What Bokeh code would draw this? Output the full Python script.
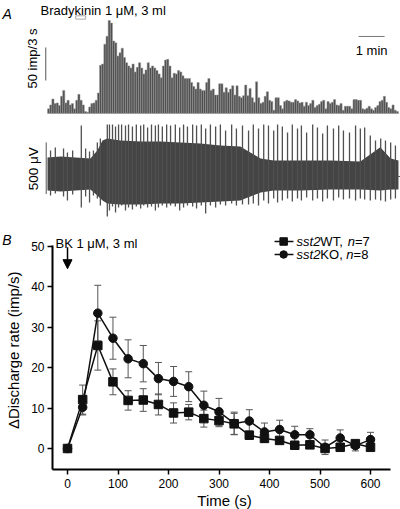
from bokeh.plotting import figure
from bokeh.layouts import column
from bokeh.models import Range1d, FixedTicker, Label, Arrow, NormalHead, Whisker, TeeHead, ColumnDataSource
from bokeh.embed import file_html
from bokeh.resources import INLINE

FONT = "Liberation Sans"

# ---------------- Panel A data ----------------
bin_s = 5  # seconds per histogram bar
hist_counts = [
    7, 13, 22, 15, 16, 12, 26, 35, 16, 20, 13, 15, 7, 20, 29, 20, 13, 3, 2, 10, 15, 16, 20, 31,
    73, 75, 105, 117, 141, 137, 110, 107, 87, 92, 99, 85, 77, 72, 69, 75, 63, 70, 77, 69, 60, 66,
    77, 69, 72, 69, 65, 60, 54, 72,
    81, 82, 72, 54, 61, 60, 65, 63, 57, 53, 53, 53, 47, 41, 37, 47, 37, 35, 35, 47, 53, 35, 37, 28,
    28, 45, 45, 32, 39, 32, 37, 42, 28, 42, 26, 24, 27, 43, 27, 38, 24, 17, 48, 24, 15, 17, 26, 33,
    20, 18, 5, 24,
    24, 12, 7, 18, 20, 19, 17, 17, 21, 19, 16, 17, 11, 17, 12, 15, 20, 9, 12, 14, 18, 20, 7, 18, 15,
    17, 21, 13, 12, 15, 5, 11, 11, 11, 7, 21, 21, 20, 20, 7, 6, 8, 11, 7, 5, 9, 12, 18, 20, 26, 17,
    9, 7, 13, 5, 3,
]
drug_on, drug_off = 65, 88          # s, bradykinin application
scale_imp = (50, 100)               # imp/3 s scale bar (50 imp)
scale_uv = (-170, 330)              # µV scale bar (500 µV)
scale_min = (718, 778)              # 1 min scale bar (s)

# voltage trace: dense core band and spikes (µV)
core_t = [0, 30, 65, 99, 115, 127, 138, 168, 215, 261, 307, 353, 399, 445, 468, 492, 522, 584, 653, 722, 768, 792, 810]
core_hi = [184, 194, 184, 174, 252, 349, 368, 349, 339, 339, 329, 320, 300, 291, 233, 174, 155, 155, 155, 145, 284, 174, 155]
core_lo = [-136, -145, -136, -126, -184, -233, -262, -271, -271, -262, -262, -252, -242, -233, -194, -155, -136, -136, -126, -126, -136, -126, -126]

spike_t = [7, 18, 37, 46, 58, 78, 88, 97, 106, 115,
           122, 138, 143, 150, 157, 164, 171, 180, 187, 196,
           205, 215, 222, 231, 240, 249, 256, 265, 275, 284,
           295, 305, 314, 323, 335, 344, 355, 365, 376, 388,
           399, 411, 425, 436, 450, 464, 475, 487, 499, 510,
           522, 531, 542, 554, 565, 577, 586, 598, 612, 623,
           635, 646, 660, 672, 683, 697, 711, 722, 732, 745,
           757, 769, 780, 792, 803]
spike_hi = [252, 281, 271, 233, 252, 494, 271, 242, 252, 329,
            368, 504, 504, 504, 484, 504, 504, 494, 504, 484,
            504, 494, 504, 475, 504, 494, 504, 484, 504, 494,
            504, 475, 504, 484, 504, 494, 504, 465, 504, 484,
            504, 446, 504, 465, 494, 446, 504, 465, 504, 494,
            446, 504, 484, 426, 504, 465, 494, 426, 504, 475,
            417, 494, 465, 494, 446, 426, 494, 465, 475, 397,
            349, 368, 349, 329, 300]
spike_lo = [-184, -165, -194, -233, -174, -300, -194, -252, -184, -213,
            -281, -388, -329, -291, -349, -300, -281, -329, -300, -320,
            -291, -310, -281, -300, -291, -329, -300, -281, -300, -281,
            -291, -329, -300, -281, -291, -310, -281, -359, -281, -300,
            -271, -281, -262, -281, -271, -271, -262, -281, -233, -262,
            -213, -252, -233, -213, -242, -213, -233, -204, -233, -213,
            -242, -213, -233, -204, -223, -213, -233, -213, -223, -233,
            -223, -233, -242, -223, -213]

# ---------------- Panel B data ----------------
times = [0, 30, 60, 90, 120, 150, 180, 210, 240, 270, 300, 330, 360, 390, 420, 450, 480, 510, 540, 570, 600]
wt_mean = [0, 12.1, 25.5, 16.5, 11.9, 12.0, 10.9, 8.8, 9.0, 7.4, 6.9, 6.1, 3.3, 2.5, 2.0, 0.8, 0.9, 0.0, 0.3, 1.2, 0.3]
wt_sem = [0, 3.6, 6.1, 3.2, 2.4, 2.8, 2.6, 2.5, 1.9, 2.1, 1.5, 2.6, 1.0, 1.0, 0.8, 0.6, 0.6, 0.8, 0.5, 0.8, 0.5]
ko_mean = [0, 10.2, 33.5, 27.3, 22.2, 21.0, 17.3, 16.6, 15.3, 10.7, 9.1, 6.2, 6.8, 4.1, 4.7, 3.4, 3.4, 0.3, 2.6, 0.7, 2.2]
ko_sem = [0, 1.9, 6.9, 5.2, 4.7, 4.5, 4.0, 3.7, 3.7, 3.5, 3.3, 2.8, 2.8, 2.2, 2.3, 2.1, 1.5, 1.8, 2.0, 1.3, 1.8]
x_ticks = [0, 100, 200, 300, 400, 500, 600]
y_ticks = [0, 10, 20, 30, 40, 50]
x_axis_span = (-29.7, 639.6)
y_axis_span = (-5.2, 50.25)
bk_time = 0

W = 400
H1, H2 = 222, 287
DARK = "#111111"


def lab(fig, text, x, y, size="13px", style="normal", align="left", baseline="alphabetic",
        angle=0, y_range_name="default"):
    fig.add_layout(Label(text=text, x=x, y=y, text_font=FONT, text_font_size=size,
                         text_font_style=style, text_align=align, text_baseline=baseline,
                         angle=angle, text_color="black", y_range_name=y_range_name))


# ---------------- Panel A ----------------
p1 = figure(width=W, height=H1, x_range=Range1d(-108.5, 814.7), y_range=Range1d(-165.2, 171.2),
            x_axis_location=None, y_axis_location=None, toolbar_location=None,
            output_backend="svg", min_border=0)
p1.outline_line_color = None
p1.grid.grid_line_color = None
p1.extra_y_ranges = {"uv": Range1d(-446, 1705)}

t_cent = [i * bin_s + bin_s / 2 for i in range(len(hist_counts))]
p1.vbar(x=t_cent, top=hist_counts, bottom=0, width=bin_s,
        fill_color="#505050", line_color="#9a9a9a", line_width=0.5)
p1.quad(left=[drug_on], right=[drug_off], bottom=[143], top=[148],
        fill_color=None, line_color="#aaaaaa", line_width=1)

# voltage trace
p1.varea(x=core_t, y1=core_lo, y2=core_hi, fill_color="#444444", y_range_name="uv")
p1.segment(x0=spike_t, y0=spike_lo, x1=spike_t, y1=spike_hi, line_color="#505050",
           line_width=1.3, y_range_name="uv")
p1.segment(x0=[core_t[-1] - 3], y0=[0], x1=[core_t[-1] + 6], y1=[0], line_color="#555555",
           line_width=1, y_range_name="uv")

# scale bars
p1.segment(x0=[-4], y0=[scale_imp[0]], x1=[-4], y1=[scale_imp[1]], line_color="#555555", line_width=1)
p1.segment(x0=[-3], y0=[scale_uv[0]], x1=[-3], y1=[scale_uv[1]], line_color="#555555",
           line_width=1, y_range_name="uv")
p1.segment(x0=[scale_min[0]], y0=[116.7], x1=[scale_min[1]], y1=[116.7], line_color="#777777", line_width=1)

lab(p1, "A", -104, 151, size="14px", style="italic")
lab(p1, "Bradykinin 1 μM, 3 ml", -16, 156)
lab(p1, "1 min", (scale_min[0] + scale_min[1]) / 2, 94.7, align="center")
lab(p1, "50 imp/3 s", -34.6, 83.3, align="center", baseline="middle", angle=1.5708)
lab(p1, "500 μV", -31.6, 74.6, size="13.5px", align="center", baseline="middle", angle=1.5708,
    y_range_name="uv")

# ---------------- Panel B ----------------
p2 = figure(width=W, height=H2, x_range=Range1d(-132.7, 659.4), y_range=Range1d(-15.1, 55.94),
            toolbar_location=None, output_backend="svg", min_border=0)
p2.outline_line_color = None
p2.grid.visible = False
for ax in (p2.xaxis, p2.yaxis):
    ax.axis_line_width = 2
    ax.axis_line_color = "black"
    ax.major_tick_line_width = 1.5
    ax.major_tick_line_color = "black"
    ax.major_tick_in = 0
    ax.major_tick_out = 5
    ax.minor_tick_line_color = None
    ax.major_label_text_font = FONT
    ax.major_label_text_font_size = "12px"
    ax.major_label_text_color = "black"
p2.xaxis.ticker = FixedTicker(ticks=x_ticks)
p2.yaxis.ticker = FixedTicker(ticks=y_ticks)
p2.xaxis.fixed_location = y_axis_span[0]
p2.yaxis.fixed_location = x_axis_span[0]
p2.xaxis.bounds = x_axis_span
p2.yaxis.bounds = y_axis_span
p2.xaxis.major_label_standoff = 4
p2.yaxis.major_label_standoff = 3

# axis titles
lab(p2, "Time (s)", 310.9, -12.9, size="15px", align="center", baseline="middle")
lab(p2, "ΔDischarge rate (imp/s)", -106.9, 24.3, size="15px", align="center", baseline="middle",
    angle=1.5708)

for mean, sem in ((ko_mean, ko_sem), (wt_mean, wt_sem)):
    src = ColumnDataSource(dict(t=times, lo=[m - s for m, s in zip(mean, sem)],
                                hi=[m + s for m, s in zip(mean, sem)]))
    p2.add_layout(Whisker(source=src, base="t", lower="lo", upper="hi", level="underlay",
                          line_color="#555555", line_width=1,
                          upper_head=TeeHead(size=7, line_color="#555555", line_width=1),
                          lower_head=TeeHead(size=7, line_color="#555555", line_width=1)))

p2.line(times, ko_mean, line_color=DARK, line_width=1.5)
p2.scatter(times, ko_mean, marker="circle", size=8.5, fill_color=DARK, line_color=DARK)
p2.line(times, wt_mean, line_color=DARK, line_width=1.5)
p2.scatter(times, wt_mean, marker="square", size=8.5, fill_color=DARK, line_color=DARK)

# legend (custom, with italic parts)
leg_x0, leg_x1, leg_xm, leg_tx = 410, 447.5, 428, 453.5
for yy, mk in ((51.24, "square"), (48.02, "circle")):
    p2.line([leg_x0, leg_x1], [yy, yy], line_color=DARK, line_width=1.5)
    p2.scatter([leg_xm], [yy], marker=mk, size=7.5, fill_color=DARK, line_color=DARK)
lab(p2, "sst2", leg_tx, 51.24, style="italic", baseline="middle")
lab(p2, "WT,", leg_tx + 47.2, 51.24, baseline="middle")
lab(p2, "n", leg_tx + 101.5, 51.24, style="italic", baseline="middle")
lab(p2, "=7", leg_tx + 115.8, 51.24, baseline="middle")
lab(p2, "sst2", leg_tx, 48.02, style="italic", baseline="middle")
lab(p2, "KO,", leg_tx + 47.2, 48.02, baseline="middle")
lab(p2, "n", leg_tx + 98.7, 48.02, style="italic", baseline="middle")
lab(p2, "=8", leg_tx + 113.0, 48.02, baseline="middle")

p2.add_layout(Arrow(end=NormalHead(size=9, fill_color="black", line_color="black"),
                    x_start=bk_time, y_start=49.8, x_end=bk_time, y_end=44.5,
                    line_width=1.5, line_color="black"))
lab(p2, "BK 1 μM, 3 ml", -23.8, 50.67)
lab(p2, "B", -129.3, 51.5, size="14px", style="italic")

layout = column(p1, p2)
open("out.html", "w").write(file_html(layout, INLINE))
